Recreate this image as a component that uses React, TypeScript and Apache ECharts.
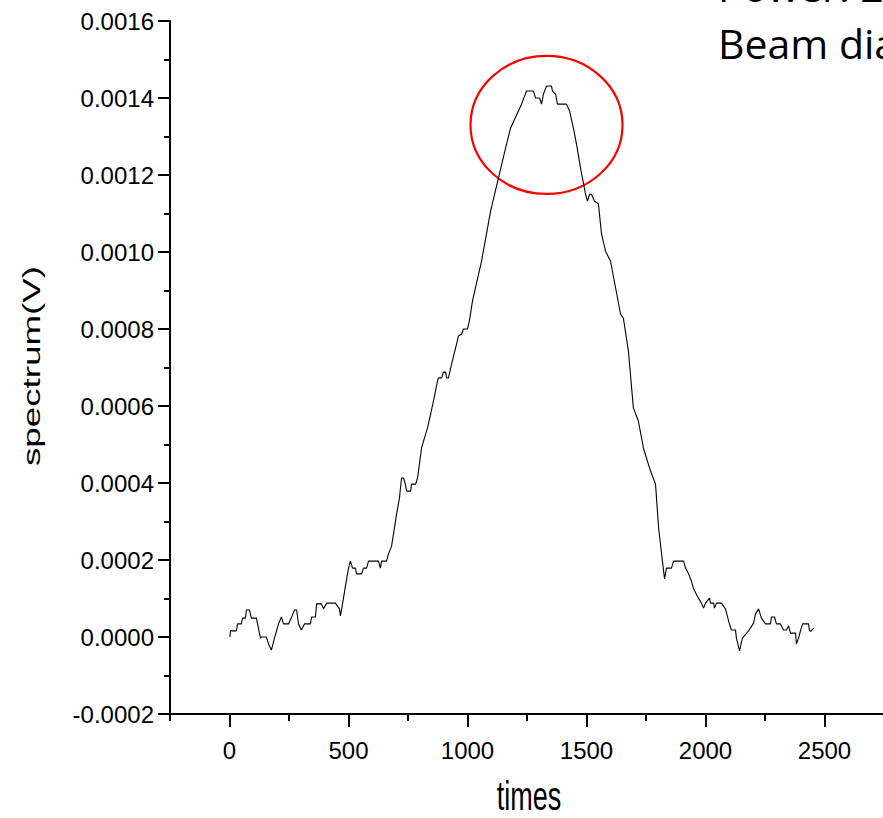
import React, { useEffect, useRef } from "react";
import * as echarts from "echarts";

// x values (times)
const times = [2, 4, 29, 34, 50, 55, 67, 71, 84, 92, 113, 130, 134, 155, 164, 176, 189, 206, 218, 227, 248, 261, 273, 282, 290, 302, 315, 340, 345, 361, 366, 387, 395, 408, 445, 462, 466, 475, 487, 500, 508, 517, 529, 534, 555, 563, 576, 584, 626, 634, 639, 660, 668, 681, 689, 702, 714, 723, 731, 739, 744, 761, 765, 782, 790, 798, 807, 824, 832, 845, 857, 874, 878, 891, 899, 908, 912, 920, 933, 954, 962, 975, 983, 1000, 1008, 1021, 1059, 1097, 1130, 1160, 1181, 1214, 1227, 1248, 1277, 1286, 1303, 1311, 1319, 1332, 1353, 1357, 1370, 1378, 1416, 1429, 1445, 1458, 1475, 1496, 1504, 1513, 1521, 1534, 1550, 1563, 1580, 1601, 1643, 1655, 1676, 1697, 1718, 1739, 1769, 1790, 1803, 1819, 1828, 1836, 1857, 1866, 1908, 1916, 1929, 1941, 1950, 1966, 1983, 1992, 2000, 2017, 2021, 2034, 2038, 2046, 2067, 2084, 2097, 2109, 2126, 2130, 2143, 2155, 2181, 2202, 2210, 2223, 2235, 2252, 2273, 2277, 2290, 2298, 2315, 2328, 2340, 2349, 2357, 2378, 2382, 2391, 2399, 2408, 2433, 2437, 2445, 2454];

// y values (spectrum, V)
const spectrum = [0, 16e-6, 16e-6, 34e-6, 34e-6, 49e-6, 49e-6, 70e-6, 70e-6, 49e-6, 49e-6, -3e-6, 0, 0, -18e-6, -34e-6, -3e-6, 34e-6, 52e-6, 34e-6, 34e-6, 52e-6, 70e-6, 70e-6, 34e-6, 18e-6, 34e-6, 34e-6, 52e-6, 52e-6, 86e-6, 86e-6, 73e-6, 88e-6, 88e-6, 73e-6, 55e-6, 86e-6, 132e-6, 179e-6, 197e-6, 179e-6, 179e-6, 164e-6, 164e-6, 179e-6, 179e-6, 197e-6, 197e-6, 179e-6, 197e-6, 197e-6, 216e-6, 236e-6, 267e-6, 319e-6, 361e-6, 413e-6, 413e-6, 397e-6, 379e-6, 379e-6, 397e-6, 397e-6, 413e-6, 449e-6, 491e-6, 527e-6, 543e-6, 579e-6, 613e-6, 665e-6, 673e-6, 673e-6, 688e-6, 688e-6, 673e-6, 673e-6, 709e-6, 761e-6, 782e-6, 787e-6, 800e-6, 800e-6, 821e-6, 873e-6, 976e-6, 1106e-6, 1192e-6, 1270e-6, 1322e-6, 1366e-6, 1384e-6, 1418e-6, 1418e-6, 1400e-6, 1400e-6, 1384e-6, 1410e-6, 1431e-6, 1431e-6, 1418e-6, 1410e-6, 1384e-6, 1384e-6, 1366e-6, 1322e-6, 1280e-6, 1218e-6, 1150e-6, 1132e-6, 1150e-6, 1150e-6, 1132e-6, 1125e-6, 1047e-6, 1002e-6, 976e-6, 839e-6, 828e-6, 743e-6, 595e-6, 561e-6, 491e-6, 431e-6, 397e-6, 283e-6, 197e-6, 151e-6, 179e-6, 179e-6, 197e-6, 197e-6, 179e-6, 164e-6, 145e-6, 125e-6, 106e-6, 88e-6, 75e-6, 88e-6, 101e-6, 88e-6, 88e-6, 75e-6, 88e-6, 88e-6, 73e-6, 42e-6, 18e-6, 18e-6, -3e-6, -36e-6, -3e-6, 16e-6, 36e-6, 60e-6, 73e-6, 49e-6, 34e-6, 34e-6, 52e-6, 52e-6, 34e-6, 34e-6, 18e-6, 18e-6, 29e-6, 10e-6, 10e-6, -18e-6, -3e-6, 16e-6, 34e-6, 34e-6, 16e-6, 16e-6, 23e-6];

const xMajorTicks = [0, 500, 1000, 1500, 2000, 2500];
const xTitle = "times";
const yTitle = "spectrum(V)";
const noteLines = ["Power: 2", "Beam dia"];
const highlightCenter = [1332, 0.00133];

export default function App() {
  const ref = useRef<HTMLDivElement>(null);
  useEffect(() => {
    document.body.style.margin = "0";
    const chart = echarts.init(ref.current!, null, { renderer: "svg" });
    const font = "'Liberation Sans', Arial, sans-serif";
    const tickStyle = { color: "#000", width: 2 };
    chart.setOption({
      animation: false,
      backgroundColor: "#fff",
      grid: { left: 170, top: 21, right: -1, bottom: 104, containLabel: false, outerBoundsMode: "none" },
      xAxis: [
        {
          type: "value",
          min: -250,
          max: 2750,
          interval: 250,
          position: "bottom",
          axisLine: { show: true, onZero: false, lineStyle: tickStyle },
          axisTick: { show: true, length: 7, lineStyle: tickStyle },
          axisLabel: {
            margin: 24,
            color: "#000",
            fontSize: 24,
            fontFamily: font,
            formatter: (v: number) => (xMajorTicks.includes(v) ? String(v) : ""),
          },
          splitLine: { show: false },
        },
        {
          type: "value",
          min: -250,
          max: 2750,
          position: "top",
          offset: -693,
          axisLine: { show: false, onZero: false },
          axisTick: { show: true, inside: true, length: 13, customValues: xMajorTicks, lineStyle: tickStyle },
          axisLabel: { show: false },
          splitLine: { show: false },
        },
      ],
      yAxis: {
        type: "value",
        min: -0.0002,
        max: 0.0016,
        interval: 0.0002,
        axisLine: { show: true, onZero: false, lineStyle: tickStyle },
        axisTick: { show: true, length: 12, lineStyle: tickStyle },
        minorTick: { show: true, splitNumber: 2, length: 6, lineStyle: tickStyle },
        axisLabel: {
          margin: 16,
          color: "#000",
          fontSize: 24,
          fontFamily: font,
          formatter: (v: number) => v.toFixed(4),
        },
        splitLine: { show: false },
        minorSplitLine: { show: false },
      },
      series: [
        {
          type: "line",
          xAxisIndex: 0,
          yAxisIndex: 0,
          data: times.map((t, i) => [t, spectrum[i]]),
          showSymbol: false,
          symbol: "none",
          lineStyle: { color: "#000", width: 1.1 },
        },
      ],
    });
    const c = chart.convertToPixel({ xAxisIndex: 0, yAxisIndex: 0 }, highlightCenter) as number[];
    chart.setOption({
      graphic: [
        {
          type: "ellipse",
          shape: { cx: c[0], cy: c[1], rx: 76, ry: 69 },
          style: { fill: "none", stroke: "#ff0000", lineWidth: 2.2 },
        },
        {
          type: "text",
          x: 529,
          y: 796,
          scaleY: 1.48,
          style: { text: xTitle, fontSize: 27, fontFamily: font, fill: "#000", align: "center", verticalAlign: "middle", textAlign: "center", textVerticalAlign: "middle" },
        },
        {
          type: "text",
          x: 31.5,
          y: 366,
          rotation: Math.PI / 2,
          scaleX: 1.5,
          style: { text: yTitle, fontSize: 24.5, fontFamily: font, fill: "#000", align: "center", verticalAlign: "middle", textAlign: "center", textVerticalAlign: "middle" },
        },
        {
          type: "text",
          x: 718,
          y: -14,
          style: { text: noteLines[0], fontSize: 41, fontFamily: "'Open Sans', 'Noto Sans', sans-serif", fill: "#000", align: "left", verticalAlign: "middle", textAlign: "left", textVerticalAlign: "middle" },
        },
        {
          type: "text",
          x: 718,
          y: 43,
          style: { text: noteLines[1], fontSize: 41, fontFamily: "'Open Sans', 'Noto Sans', sans-serif", fill: "#000", align: "left", verticalAlign: "middle", textAlign: "left", textVerticalAlign: "middle" },
        },
      ],
    });
    return () => chart.dispose();
  }, []);
  return <div ref={ref} style={{ width: 883, height: 818 }} />;
}
